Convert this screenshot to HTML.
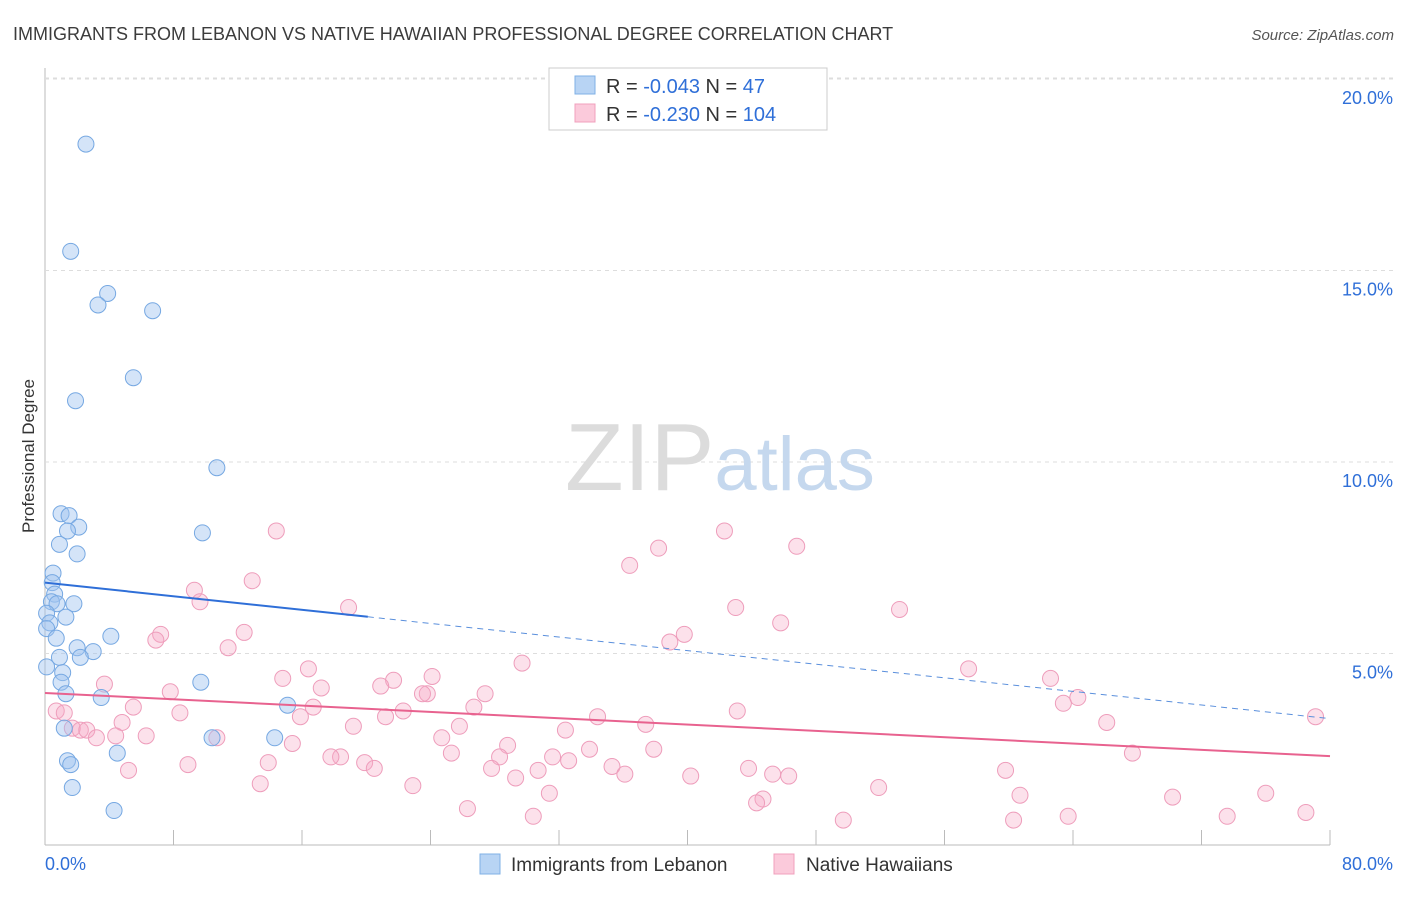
<!DOCTYPE html>
<html><head><meta charset="utf-8"><style>
body{margin:0;background:#fff;font-family:"Liberation Sans",sans-serif;}
svg text{font-family:"Liberation Sans",sans-serif;}
</style></head><body>
<svg id="chart" width="1406" height="892" xmlns="http://www.w3.org/2000/svg">
<text x="13" y="40" font-size="18" fill="#3c3c3c">IMMIGRANTS FROM LEBANON VS NATIVE HAWAIIAN PROFESSIONAL DEGREE CORRELATION CHART</text>
<text x="1394" y="40" font-size="15" fill="#555" font-style="italic" text-anchor="end">Source: ZipAtlas.com</text>
<text transform="translate(34,456) rotate(-90)" font-size="17" fill="#333" text-anchor="middle">Professional Degree</text>
<g id="grid"></g>
<text x="720" y="490" font-size="96" text-anchor="middle" fill="#dcdcdc" font-family="Liberation Serif">ZIP<tspan fill="#c5d8ee" font-family="Liberation Sans" font-size="76">atlas</tspan></text>
<g id="points"></g>
<g id="lines"></g>
<g>
<rect x="549" y="68" width="278" height="62" fill="#fff" stroke="#ccc"/>
<rect x="575" y="76" width="20" height="18" fill="#b8d4f4" stroke="#7fb0e6"/>
<rect x="575" y="104" width="20" height="18" fill="#fbcadb" stroke="#f0a0bc"/>
<text x="606" y="93" font-size="20" fill="#333">R = <tspan fill="#2f6fd8">-0.043</tspan>   N = <tspan fill="#2f6fd8">  47</tspan></text>
<text x="606" y="121" font-size="20" fill="#333">R = <tspan fill="#2f6fd8">-0.230</tspan>   N = <tspan fill="#2f6fd8">104</tspan></text>
</g>
<g>
<rect x="480" y="854" width="20" height="20" fill="#b8d4f4" stroke="#7fb0e6"/>
<text x="511" y="871" font-size="19" fill="#333">Immigrants from Lebanon</text>
<rect x="774" y="854" width="20" height="20" fill="#fbcadb" stroke="#f0a0bc"/>
<text x="806" y="871" font-size="19" fill="#333">Native Hawaiians</text>
</g>
</svg>
<script>
const blueX=[2.55,1.6,3.9,3.3,6.7,5.5,1.9,10.7,1.0,1.5,2.1,1.4,9.8,0.9,2.0,0.5,0.45,0.6,0.4,0.75,1.8,0.1,1.3,0.3,0.1,0.7,4.1,2.0,3.0,2.2,0.9,0.1,1.1,1.0,9.7,1.3,3.5,15.1,1.2,10.4,14.3,4.5,1.4,1.6,1.7,4.3];
const blueY=[18.3,15.5,14.4,14.1,13.95,12.2,11.6,9.85,8.65,8.6,8.3,8.2,8.15,7.85,7.6,7.1,6.85,6.55,6.35,6.3,6.3,6.05,5.95,5.8,5.65,5.4,5.45,5.15,5.05,4.9,4.9,4.65,4.5,4.25,4.25,3.95,3.85,3.65,3.05,2.8,2.8,2.4,2.2,2.1,1.5,0.9];
const pinkX=[14.4,42.3,38.2,46.8,36.4,12.9,9.3,9.65,18.9,43.0,53.2,45.8,7.2,6.9,12.4,39.8,38.9,11.4,29.7,57.5,16.4,24.1,14.8,62.6,21.7,20.9,3.7,17.2,7.8,27.4,23.8,23.5,64.3,63.4,26.7,16.7,5.5,0.7,1.2,22.3,8.4,43.1,15.9,21.2,34.4,4.8,66.1,79.1,25.8,19.2,37.4,1.7,2.2,2.6,32.4,4.4,6.3,3.2,10.7,24.7,15.4,28.8,33.9,37.9,25.3,18.4,17.8,28.3,31.6,67.7,8.9,13.9,19.9,32.6,27.8,35.3,20.5,30.7,5.2,43.8,59.8,36.1,40.2,45.3,46.3,29.3,13.4,22.9,51.9,31.4,60.7,70.2,76.0,44.7,44.3,26.3,78.5,30.4,63.7,49.7,60.3,73.6];
const pinkY=[8.2,8.2,7.75,7.8,7.3,6.9,6.65,6.35,6.2,6.2,6.15,5.8,5.5,5.35,5.55,5.5,5.3,5.15,4.75,4.6,4.6,4.4,4.35,4.35,4.3,4.15,4.2,4.1,4.0,3.95,3.95,3.95,3.85,3.7,3.6,3.6,3.6,3.5,3.45,3.5,3.45,3.5,3.35,3.35,3.35,3.2,3.2,3.35,3.1,3.1,3.15,3.05,3.0,3.0,3.0,2.85,2.85,2.8,2.8,2.8,2.65,2.6,2.5,2.5,2.4,2.3,2.3,2.3,2.3,2.4,2.1,2.15,2.15,2.2,2.0,2.05,2.0,1.95,1.95,2.0,1.95,1.85,1.8,1.85,1.8,1.75,1.6,1.55,1.5,1.35,1.3,1.25,1.35,1.2,1.1,0.95,0.85,0.75,0.75,0.65,0.65,0.75];
const blueTrend=[6.85,3.3];
const pinkTrend=[3.97,2.32];
const yTicks=[5,10,15,20];
const xTickLabels=["0.0%","80.0%"];
const NS="http://www.w3.org/2000/svg";
const sx=v=>45+v*(1285/80);
const sy=v=>845-v*38.3;
function mk(tag,attrs,parent){const e=document.createElementNS(NS,tag);for(const k in attrs)e.setAttribute(k,attrs[k]);parent.appendChild(e);return e;}
const grid=document.getElementById('grid');
const ax=mk('line',{x1:45,y1:68,x2:45,y2:845,stroke:'#bbb'},grid);


const bx=mk('line',{x1:45,y1:845,x2:1330,y2:845,stroke:'#bbb'},grid);


for(let i=0;i<=10;i++){const t=mk('line',{x1:sx(i*8),y1:830,x2:sx(i*8),y2:845,stroke:'#bbb'},grid);

}
yTicks.forEach(v=>{const l=mk('line',{x1:45,y1:sy(v),x2:1395,y2:sy(v),stroke:'#ddd','stroke-dasharray':'4,4'},grid);


const t=mk('text',{x:1393,y:sy(v)+25,'font-size':18,fill:'#2f6fd8','text-anchor':'end'},grid);t.textContent=v.toFixed(1)+'%';

});
const l0=mk('line',{x1:45,y1:78,x2:1395,y2:78,stroke:'#ddd','stroke-dasharray':'4,4'},grid);


const xl=mk('text',{x:45,y:870,'font-size':18,fill:'#2f6fd8'},grid);xl.textContent=xTickLabels[0];


const xr=mk('text',{x:1393,y:870,'font-size':18,fill:'#2f6fd8','text-anchor':'end'},grid);xr.textContent=xTickLabels[1];


const pts=document.getElementById('points');
pinkX.forEach((x,i)=>{const c=mk('circle',{cx:sx(x),cy:sy(pinkY[i]),r:8,fill:'rgba(246,170,198,0.35)',stroke:'#ee9dbb','stroke-width':1},pts);

});
blueX.forEach((x,i)=>{const c=mk('circle',{cx:sx(x),cy:sy(blueY[i]),r:8,fill:'rgba(160,196,240,0.45)',stroke:'#76a8e2','stroke-width':1},pts);

});
const ln=document.getElementById('lines');
const bAt=x=>blueTrend[0]+(blueTrend[1]-blueTrend[0])*x/80;
const b1=mk('line',{x1:sx(0),y1:sy(bAt(0)),x2:sx(20.1),y2:sy(bAt(20.1)),stroke:'#2f6fd8','stroke-width':2},ln);


const b2=mk('line',{x1:sx(20.1),y1:sy(bAt(20.1)),x2:sx(80),y2:sy(bAt(80)),stroke:'#5a8fdc','stroke-width':1,'stroke-dasharray':'6,5'},ln);


const p1=mk('line',{x1:sx(0),y1:sy(pinkTrend[0]),x2:sx(80),y2:sy(pinkTrend[1]),stroke:'#e8628f','stroke-width':2},ln);


</script>
</body></html>
